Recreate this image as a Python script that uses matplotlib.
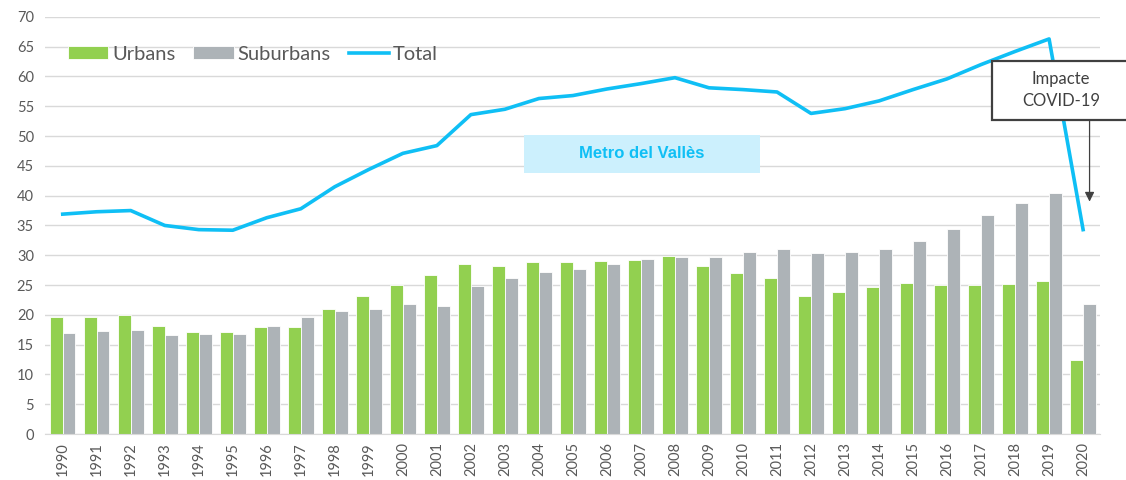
import matplotlib.pyplot as plt
import numpy as np
from matplotlib.patches import Rectangle

years = [str(y) for y in range(1990, 2021)]
urbans = [19.7, 19.7, 19.9, 18.1, 17.2, 17.2, 17.9, 17.9, 20.9, 23.2,
          25.0, 26.7, 28.6, 28.2, 28.9, 28.9, 29.1, 29.2, 29.9, 28.2,
          27.0, 26.2, 23.2, 23.9, 24.6, 25.3, 25.0, 25.0, 25.1, 25.6, 12.4]
suburbans = [17.0, 17.3, 17.4, 16.7, 16.8, 16.8, 18.2, 19.7, 20.6, 21.0,
             21.8, 21.5, 24.8, 26.1, 27.2, 27.7, 28.6, 29.4, 29.7, 29.7,
             30.6, 31.0, 30.3, 30.5, 31.1, 32.4, 34.4, 36.7, 38.7, 40.5, 21.8]
total = [36.9, 37.3, 37.5, 35.0, 34.3, 34.2, 36.3, 37.8, 41.5, 44.4,
         47.1, 48.4, 53.6, 54.5, 56.3, 56.8, 57.9, 58.8, 59.8, 58.1,
         57.8, 57.4, 53.8, 54.6, 55.9, 57.8, 59.6, 62.0, 64.2, 66.3, 34.3]

green = '#92d050'
grey = '#adb3b7'
blue = '#0fbff5'
txt = '#595959'

plt.rcParams['font.family'] = ['Lato', 'DejaVu Sans']

fig = plt.figure(figsize=(11.26, 4.8), dpi=100)
ax = fig.add_axes([0.040, 0.0958, 0.937, 0.869])

x = np.arange(len(years))
w = 0.37
b1 = ax.bar(x - 0.19, urbans, w, color=green, edgecolor='white', linewidth=0.6, label='Urbans', zorder=2)
b2 = ax.bar(x + 0.19, suburbans, w, color=grey, edgecolor='white', linewidth=0.6, label='Suburbans', zorder=2)
l1, = ax.plot(x, total, color=blue, linewidth=2.6, label='Total', zorder=3, solid_joinstyle='round')

ax.set_xlim(-0.52, 30.5)
ax.set_ylim(0, 70)
ax.set_yticks(range(0, 71, 5))
ax.set_xticks(x)
ax.set_xticklabels(years, rotation=90)
ax.tick_params(axis='both', length=0, colors=txt, labelsize=10.5)
ax.tick_params(axis='x', pad=6)
ax.tick_params(axis='y', pad=8)
ax.grid(axis='y', color='#d9d9d9', linewidth=1, zorder=0)
ax.set_axisbelow(True)
for s in ['top', 'right', 'left']:
    ax.spines[s].set_visible(False)
ax.spines['bottom'].set_color('#d9d9d9')

leg = ax.legend([b1, b2, l1], ['Urbans', 'Suburbans', 'Total'],
                loc='upper left', bbox_to_anchor=(0.008, 0.965), ncol=3, frameon=False,
                fontsize=14.5, handlelength=2.0, handleheight=0.6, columnspacing=0.9,
                handletextpad=0.2, borderaxespad=0.3)
for t in leg.get_texts():
    t.set_color(txt)

# Metro del Valles label
fig.patches.append(Rectangle((524 / 1126, 1 - 173 / 480), 236 / 1126, 38 / 480,
                             transform=fig.transFigure, facecolor='#ccf0fd',
                             edgecolor='none', zorder=1))
fig.text(642 / 1126, 1 - 154 / 480, 'Metro del Vallès', ha='center', va='center',
         fontsize=12, fontweight='bold', color=blue, family='Liberation Sans', zorder=5)

# COVID annotation
fig.patches.append(Rectangle((992 / 1126, 1 - 120 / 480), 140 / 1126, 59 / 480,
                             transform=fig.transFigure, facecolor='white',
                             edgecolor='#404040', linewidth=1.6, zorder=4))
fig.text(1061 / 1126, 1 - 90 / 480, 'Impacte\nCOVID-19', ha='center', va='center',
         fontsize=12, color='#404040', linespacing=1.4, zorder=5)
ax.annotate('', xy=(30.19, 39.0), xytext=(30.19, 52.7),
            arrowprops=dict(arrowstyle='-|>', color='#404040', lw=0.9,
                            mutation_scale=14, shrinkA=0, shrinkB=0),
            annotation_clip=False, zorder=6)

fig.savefig('out.png', dpi=100)
